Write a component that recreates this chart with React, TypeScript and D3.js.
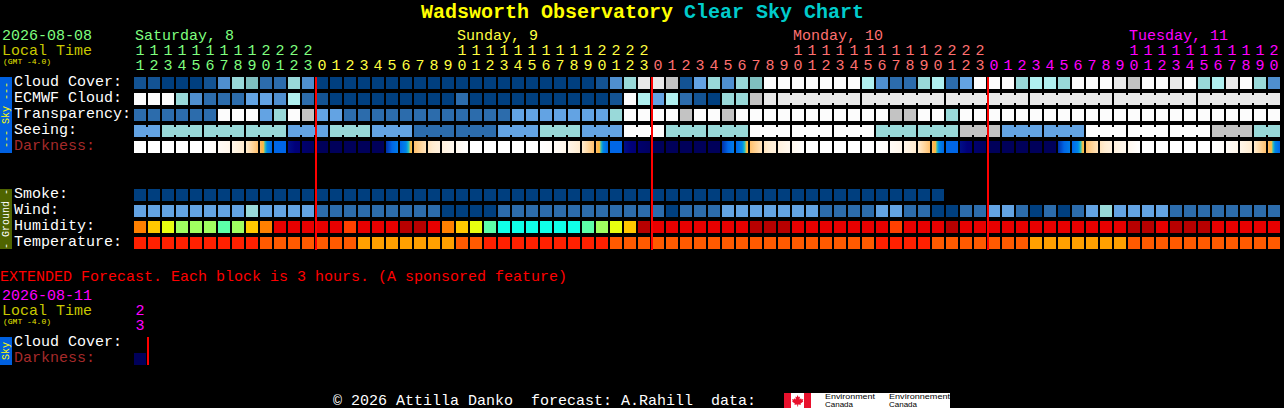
import React from 'react';
import * as d3 from 'd3';

const width = 1284;
const height = 408;
const monoFont = '"Liberation Mono", monospace';

// hour of every forecast column
const hours = [
  11, 12, 13, 14, 15, 16, 17, 18, 19, 20, 21, 22, 23,
  0, 1, 2, 3, 4, 5, 6, 7, 8, 9, 10, 11, 12, 13, 14, 15, 16, 17, 18, 19, 20, 21, 22, 23,
  0, 1, 2, 3, 4, 5, 6, 7, 8, 9, 10, 11, 12, 13, 14, 15, 16, 17, 18, 19, 20, 21, 22, 23,
  0, 1, 2, 3, 4, 5, 6, 7, 8, 9, 10, 11, 12, 13, 14, 15, 16, 17, 18, 19, 20,
];

const dayNames = ['Saturday, 8', 'Sunday, 9', 'Monday, 10', 'Tuesday, 11'];
const dayStartCols = [0, 23, 47, 71];
const dayFirstCols = [0, 13, 37, 61];

// sky levels, 0 = best (dark blue), 10 = worst (white)
const cloudCover = [
  1, 1, 0, 0, 0, 1, 3, 6, 5, 2,
  2, 6, 3, 0, 0, 0, 0, 0, 0, 0,
  0, 0, 0, 0, 0, 0, 0, 0, 0, 0,
  0, 0, 0, 1, 3, 6, 9, 9, 8, 1,
  4, 6, 3, 6, 5, 10, 10, 10, 10, 10,
  10, 10, 7, 3, 2, 2, 6, 7, 2, 4,
  10, 10, 10, 6, 7, 7, 6, 10, 10, 10,
  9, 8, 10, 10, 9, 10, 6, 7, 9, 10,
  6, 3,
];
const ecmwfCloud = [
  10, 10, 10, 6, 3, 2, 2, 2, 4, 4,
  3, 7, 2, 1, 0, 0, 0, 0, 0, 0,
  0, 0, 0, 2, 0, 0, 0, 0, 0, 0,
  0, 0, 0, 0, 1, 10, 7, 4, 7, 2,
  1, 0, 6, 6, 8, 9, 9, 9, 9, 9,
  9, 9, 10, 10, 10, 10, 10, 10, 9, 9,
  9, 9, 9, 9, 10, 10, 10, 10, 10, 10,
  10, 10, 10, 10, 10, 10, 2, 2, 2, 2,
  2, 2,
];
const ecmwfSpans = [
  1, 1, 1, 1, 1, 1, 1, 1, 1, 1, 1, 1, 1, 1, 1, 1, 1, 1, 1, 1, 1, 1, 1,
  1, 1, 1, 1, 1, 1, 1, 1, 1, 1, 1, 1, 1, 1, 1, 1, 1, 1, 1, 1, 1, 1, 1,
  6, 6, 6, 6, 6, 6,
];
const transparency = [
  2, 2, 2, 2, 2, 2, 10, 10, 10, 4,
  6, 10, 8, 4, 4, 2, 2, 2, 2, 2,
  2, 2, 2, 2, 2, 2, 2, 4, 4, 4,
  4, 4, 4, 4, 6, 10, 10, 10, 10, 8,
  10, 10, 8, 10, 10, 10, 10, 10, 10, 10,
  10, 10, 10, 10, 8, 8, 10, 10, 6, 10,
  10, 10, 10, 10, 10, 10, 10, 10, 10, 10,
  10, 10, 10, 10, 10, 10, 10, 10, 10, 10,
  10, 10,
];
// seeing comes in 3 hour blocks
const seeing = [4, 6, 6, 6, 4, 6, 4, 2, 2, 4, 6, 4, 10, 6, 6, 10, 10, 10, 6, 6, 8, 4, 4, 10, 10, 10, 8, 6];
const seeingSpans = [2, 3, 3, 3, 3, 3, 3, 3, 3, 3, 3, 3, 3, 3, 3, 3, 3, 3, 3, 3, 3, 3, 3, 3, 3, 3, 3, 2];

const smoke = [
  0, 0, 0, 0, 0, 0, 0, 0, 0, 0, 0, 0, 0, 0, 0, 0, 0, 0, 0, 0,
  0, 0, 0, 0, 0, 0, 0, 0, 0, 0, 0, 0, 0, 0, 0, 0, 0, 0, 0, 0,
  0, 0, 0, 0, 0, 0, 0, 0, 0, 0, 0, 0, 0, 0, 0, 0, 0, 0,
];
const wind = [
  4, 4, 4, 4, 4, 4, 4, 4, 6, 4,
  4, 4, 4, 2, 2, 2, 2, 2, 2, 2,
  2, 2, 0, 0, 0, 0, 2, 2, 2, 2,
  2, 2, 2, 2, 2, 2, 2, 2, 0, 2,
  2, 2, 4, 4, 4, 4, 4, 4, 4, 2,
  2, 2, 2, 4, 4, 2, 2, 0, 0, 2,
  2, 4, 4, 2, 0, 2, 0, 2, 4, 6,
  4, 4, 4, 4, 2, 2, 2, 2, 2, 2,
  2, 2,
];
// 0 = dry (cyan) ... 8 = humid (dark red)
const humidity = [
  5, 4, 3, 2, 2, 2, 1, 2, 4, 5,
  7, 7, 7, 7, 7, 6, 7, 7, 7, 8,
  8, 7, 5, 4, 3, 1, 0, 0, 0, 0,
  0, 0, 1, 2, 3, 4, 8, 7, 7, 7,
  7, 7, 7, 7, 8, 8, 8, 7, 7, 7,
  7, 7, 7, 7, 6, 7, 7, 7, 8, 7,
  7, 7, 7, 7, 7, 7, 7, 7, 7, 7,
  7, 8, 8, 7, 8, 8, 8, 7, 7, 7,
  7, 7,
];
const temperature = [
  0, 0, 0, 0, 0, 0, 0, 0, 0, 1,
  1, 1, 1, 1, 1, 1, 2, 2, 2, 2,
  2, 2, 2, 1, 1, 0, 0, 0, 0, 0,
  0, 0, 0, 0, 1, 1, 1, 1, 1, 1,
  1, 1, 1, 1, 1, 1, 1, 1, 1, 1,
  1, 1, 1, 0, 0, 0, 0, 1, 1, 1,
  1, 1, 1, 1, 2, 2, 2, 2, 2, 2,
  2, 1, 1, 1, 1, 1, 1, 1, 1, 1,
  1, 1,
];

// darkness at the left and right edge of a block, 0 = night, 10 = daylight
const darkStart = [
  10, 10, 10, 10, 10, 10, 9.6, 9, 8, 6.5, 3, 1.3, 0.6,
  0, 0, 0, 0, 0, 2, 3, 6.5, 7.7, 8.5, 9.2,
  10, 10, 10, 10, 10, 10, 9.6, 9, 8, 6.5, 3, 1.3, 0.6,
  0, 0, 0, 0, 0, 2, 3, 6.5, 7.7, 8.5, 9.2,
  10, 10, 10, 10, 10, 10, 9.6, 9, 8, 6.5, 3, 1.3, 0.6,
  0, 0, 0, 0, 0, 2, 3, 6.5, 7.7, 8.5, 9.2,
  10, 10, 10, 10, 10, 10, 9.6, 9, 8, 6.5,
];
const darkEnd = [
  10, 10, 10, 10, 10, 9.7, 9, 8, 6.5, 3, 3, 0.8, 0.2,
  0, 0, 0, 0, 0, 4, 5.8, 7.7, 8.5, 9.2, 10,
  10, 10, 10, 10, 10, 9.7, 9, 8, 6.5, 3, 3, 0.8, 0.2,
  0, 0, 0, 0, 0, 4, 5.8, 7.7, 8.5, 9.2, 10,
  10, 10, 10, 10, 10, 9.7, 9, 8, 6.5, 3, 3, 0.8, 0.2,
  0, 0, 0, 0, 0, 4, 5.8, 7.7, 8.5, 9.2, 10,
  10, 10, 10, 10, 10, 9.7, 9, 8, 6.5, 3,
];

const extHours = [23];
const extDarkness = [0];

const skyRows = ['Cloud Cover:', 'ECMWF Cloud:', 'Transparency:', 'Seeing:', 'Darkness:'];
const groundRows = ['Smoke:', 'Wind:', 'Humidity:', 'Temperature:'];
const extRows = ['Cloud Cover:', 'Darkness:'];

const skyColor = d3.scaleOrdinal<number, string>()
  .domain(d3.range(11))
  .range(['#003f7f', '#135393', '#2c6cac', '#4f8fcf', '#63a3e3', '#7fbfbf', '#99d9d9', '#b0f0f0', '#c3c3c3', '#e9e9e9', '#fcfcfc']);

const humidityColor = d3.scaleOrdinal<number, string>()
  .domain(d3.range(9))
  .range(['#10ffe8', '#5cffa8', '#a0ff60', '#e8ff10', '#ffc800', '#ff8000', '#ff4000', '#e80000', '#b80000']);

const temperatureColor = d3.scaleOrdinal<number, string>()
  .domain(d3.range(3))
  .range(['#ff2000', '#ff5a00', '#ffa000']);

const darknessColor = d3.scaleLinear<string>()
  .domain([0, 1, 2, 3, 4.5, 5, 5.5, 6, 7, 8, 9, 10])
  .range(['#00005a', '#00007a', '#0030a8', '#0066e6', '#0088e8', '#20c0c0', '#ffc040', '#ffb048', '#ffd090', '#ffecd0', '#fff6ea', '#ffffff']);

const x = d3.scaleBand<number>()
  .domain(d3.range(hours.length))
  .range([134, 1280])
  .paddingInner(2 / 14);

const ySky = d3.scaleBand<string>().domain(skyRows).range([77, 153]).paddingInner(0.25);
const yGround = d3.scaleBand<string>().domain(groundRows).range([189, 249]).paddingInner(0.25);
const yExt = d3.scaleBand<string>().domain(extRows).range([337, 365]).paddingInner(0.25);

const dayColors = ['#7fff7f', '#ffff40', '#ff7070', '#ff00ff'];
const bw = x.bandwidth();
const step = x.step();

// one row of blocks, spans join neighbouring blocks with a small bridge
const BlockRow = ({ values, spans, y, color }: { values: number[]; spans?: number[]; y: number; color: (v: number) => string }) => {
  const blocks: React.ReactNode[] = [];
  let col = 0;
  values.forEach((v, i) => {
    const span = spans ? spans[i] : 1;
    d3.range(span).forEach((k) => {
      const c = col + k;
      blocks.push(<rect key={c} x={x(c)} y={y} width={bw} height={bw} fill={color(v)} />);
      if (k < span - 1) {
        blocks.push(<rect key={`b${c}`} x={(x(c) as number) + bw} y={y + 2} width={step - bw} height={bw - 4} fill={color(v)} />);
      }
    });
    col += span;
  });
  return <g shapeRendering="crispEdges">{blocks}</g>;
};

const gradientStops = d3.range(0, 1.0001, 0.1);

const DarknessRow = ({ from, to, y, prefix }: { from: number[]; to: number[]; y: number; prefix: string }) => (
  <g shapeRendering="crispEdges">
    <defs>
      {from.map((d, i) => (
        <linearGradient key={i} id={`${prefix}${i}`} x1="0" x2="1" y1="0" y2="0">
          {gradientStops.map((t) => (
            <stop key={t} offset={t} stopColor={darknessColor(d + (to[i] - d) * t)} />
          ))}
        </linearGradient>
      ))}
    </defs>
    {from.map((d, i) => (
      <rect key={i} x={x(i)} y={y} width={bw} height={bw} fill={`url(#${prefix}${i})`} />
    ))}
  </g>
);

const Label = ({ name, y }: { name: string; y: number }) => (
  <text x={14} y={y + 9} fontSize={15} fill={name === 'Darkness:' ? '#a52a2a' : '#ffffff'}>{name}</text>
);

const SideBar = ({ y, h, fill, color, label }: { y: number; h: number; fill: string; color: string; label: string }) => (
  <g>
    <rect x={0} y={y} width={12} height={h} fill={fill} shapeRendering="crispEdges" />
    <text
      transform={`translate(6,${y + h / 2}) rotate(-90)`}
      textAnchor="middle"
      dominantBaseline="central"
      fontSize={10}
      fill={color}
    >{label}</text>
  </g>
);

const HourLabels = ({ cols, labels, tensY, onesY, colorOf }: { cols: number[]; labels: number[]; tensY: number; onesY: number; colorOf: (i: number) => string }) => (
  <g textAnchor="middle" fontSize={15}>
    {cols.map((c, i) => (
      <g key={c} fill={colorOf(c)}>
        {labels[i] >= 10 && <text x={(x(c) as number) + bw / 2} y={tensY}>{Math.floor(labels[i] / 10)}</text>}
        <text x={(x(c) as number) + bw / 2} y={onesY}>{labels[i] % 10}</text>
      </g>
    ))}
  </g>
);

const dayIndexOf = (col: number) => d3.bisectRight(dayFirstCols, col) - 1;
const midnightCols = hours.map((h, i) => (h === 0 ? i : -1)).filter((i) => i >= 0);

export default function App() {
  return (
    <svg
      width={width}
      height={height}
      fontFamily={monoFont}
      style={{ position: 'absolute', left: 0, top: 0, display: 'block', background: '#000' }}
    >
      <rect width={width} height={height} fill="#000" />

      {/* title */}
      <text x={421} y={18} fontSize={20} fontWeight="bold" fill="#ffff00">Wadsworth Observatory</text>
      <text x={684} y={18} fontSize={20} fontWeight="bold" fill="#00cccc">Clear Sky Chart</text>

      {/* header */}
      <text x={2} y={40} fontSize={15} fill="#7fff7f">2026-08-08</text>
      <text x={2} y={55} fontSize={15} fill="#c8c800">Local Time</text>
      <text x={3} y={64} fontSize={8} fill="#e8e800">(GMT -4.0)</text>
      {dayNames.map((d, i) => (
        <text key={d} x={(x(dayStartCols[i]) as number) + 1} y={40} fontSize={15} fill={dayColors[i]}>{d}</text>
      ))}
      <HourLabels cols={d3.range(hours.length)} labels={hours} tensY={55} onesY={70} colorOf={(c) => dayColors[dayIndexOf(c)]} />

      {/* sky rows */}
      <SideBar y={77} h={76} fill="#0060e0" color="#ffff00" label="--- Sky ---" />
      {skyRows.map((r) => <Label key={r} name={r} y={ySky(r) as number} />)}
      <BlockRow values={cloudCover} y={ySky('Cloud Cover:') as number} color={skyColor} />
      <BlockRow values={ecmwfCloud} spans={ecmwfSpans} y={ySky('ECMWF Cloud:') as number} color={skyColor} />
      <BlockRow values={transparency} y={ySky('Transparency:') as number} color={skyColor} />
      <BlockRow values={seeing} spans={seeingSpans} y={ySky('Seeing:') as number} color={skyColor} />
      <DarknessRow from={darkStart} to={darkEnd} y={ySky('Darkness:') as number} prefix="dark" />

      {/* ground rows */}
      <SideBar y={189} h={60} fill="#4f6400" color="#ffffff" label="- Ground -" />
      {groundRows.map((r) => <Label key={r} name={r} y={yGround(r) as number} />)}
      <BlockRow values={smoke} y={yGround('Smoke:') as number} color={skyColor} />
      <BlockRow values={wind} y={yGround('Wind:') as number} color={skyColor} />
      <BlockRow values={humidity} y={yGround('Humidity:') as number} color={humidityColor} />
      <BlockRow values={temperature} y={yGround('Temperature:') as number} color={temperatureColor} />

      {/* midnight lines */}
      {midnightCols.map((c) => (
        <rect key={c} x={(x(c) as number) - 1} y={77} width={2} height={173} fill="#ff0000" shapeRendering="crispEdges" />
      ))}

      {/* extended forecast */}
      <text x={0} y={281} fontSize={15} fill="#ff0000">EXTENDED Forecast. Each block is 3 hours. (A sponsored feature)</text>
      <text x={2} y={300} fontSize={15} fill="#ff00ff">2026-08-11</text>
      <text x={2} y={315} fontSize={15} fill="#c8c800">Local Time</text>
      <text x={3} y={324} fontSize={8} fill="#e8e800">(GMT -4.0)</text>
      <HourLabels cols={[0]} labels={extHours} tensY={315} onesY={330} colorOf={() => '#ff00ff'} />
      <SideBar y={337} h={28} fill="#0060e0" color="#ffff00" label="Sky" />
      {extRows.map((r) => <Label key={r} name={r} y={yExt(r) as number} />)}
      <BlockRow values={extDarkness} y={yExt('Darkness:') as number} color={(v) => darknessColor(v)} />
      <rect x={(x(1) as number) - 1} y={337} width={2} height={28} fill="#ff0000" shapeRendering="crispEdges" />

      {/* footer */}
      <text x={333} y={405} fontSize={15} fill="#ffffff" xmlSpace="preserve">© 2026 Attilla Danko  forecast: A.Rahill  data:</text>
      <g shapeRendering="crispEdges">
        <rect x={784} y={393} width={166} height={15} fill="#ffffff" />
        <rect x={784} y={393} width={7} height={15} fill="#e8112d" />
        <rect x={804} y={393} width={7} height={15} fill="#e8112d" />
      </g>
      <path d="M797.5 395 l1.2 2.2 1.3-.6 -.5 3 1.6-1.4 .4 1.2 1.8-.3 -.6 1.9 .7.4 -2.8 2.2 .4 1.2 -2.9-.4 v2 h-.8 v-2 l-2.9.4 .4-1.2 -2.8-2.2 .7-.4 -.6-1.9 1.8.3 .4-1.2 1.6 1.4 -.5-3 1.3.6z" fill="#e8112d" />
      <g fontFamily='"Liberation Sans", sans-serif' fontSize={8} fill="#000">
        <text x={825} y={399} textLength={50} lengthAdjust="spacingAndGlyphs">Environment</text>
        <text x={825} y={407} textLength={28} lengthAdjust="spacingAndGlyphs">Canada</text>
        <text x={889} y={399} textLength={61} lengthAdjust="spacingAndGlyphs">Environnement</text>
        <text x={889} y={407} textLength={28} lengthAdjust="spacingAndGlyphs">Canada</text>
      </g>
    </svg>
  );
}
